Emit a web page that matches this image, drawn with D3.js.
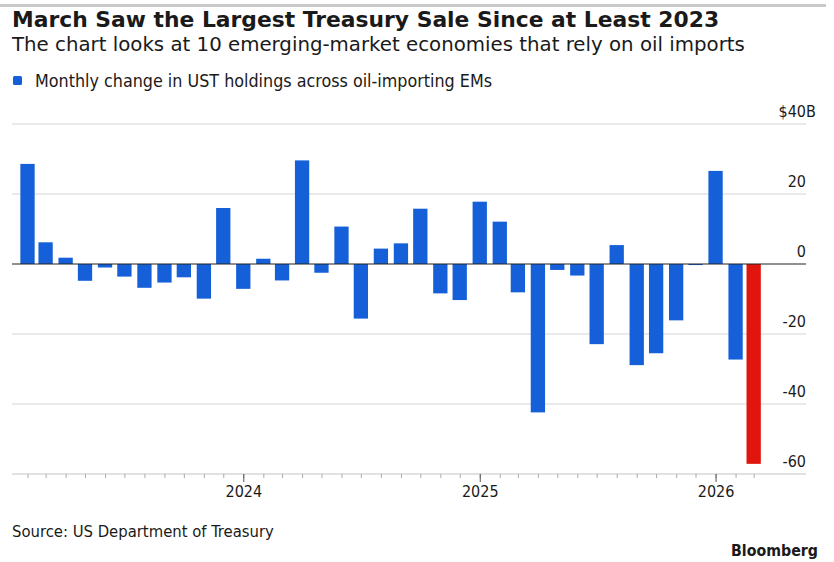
<!DOCTYPE html>
<html>
<head>
<meta charset="utf-8">
<script src="https://cdn.jsdelivr.net/npm/d3@7"></script>
<style>
  body { margin: 0; background: #ffffff; }
  svg text { font-family: "DejaVu Sans Condensed", "DejaVu Sans", sans-serif; fill: #1a1a1a; }
  svg text.wide { font-family: "DejaVu Sans", sans-serif; }
</style>
</head>
<body>
<svg id="chart" width="834" height="562"></svg>
<script>
// ---- Data ----
const months = [
  "2023-02","2023-03","2023-04","2023-05","2023-06","2023-07","2023-08","2023-09","2023-10","2023-11","2023-12",
  "2024-01","2024-02","2024-03","2024-04","2024-05","2024-06","2024-07","2024-08","2024-09","2024-10","2024-11","2024-12",
  "2025-01","2025-02","2025-03","2025-04","2025-05","2025-06","2025-07","2025-08","2025-09","2025-10","2025-11","2025-12",
  "2026-01","2026-02","2026-03"
];
const values = [
  28.6, 6.2, 1.8, -4.8, -1.0, -3.6, -6.8, -5.3, -3.8, -9.9, 16.0,
  -7.1, 1.5, -4.7, 29.6, -2.5, 10.7, -15.6, 4.4, 5.9, 15.8, -8.4, -10.3,
  17.8, 12.1, -8.1, -42.4, -1.7, -3.3, -22.9, 5.4, -28.9, -25.5, -16.1, -0.3,
  26.6, -27.3, -57.1
];
const highlightMonth = "2026-03";
const yTicks = [40, 20, 0, -20, -40, -60];
const yearLabels = ["2024", "2025", "2026"];

const title = "March Saw the Largest Treasury Sale Since at Least 2023";
const subtitle = "The chart looks at 10 emerging-market economies that rely on oil imports";
const legendLabel = "Monthly change in UST holdings across oil-importing EMs";
const sourceText = "Source: US Department of Treasury";
const brand = "Bloomberg";

// ---- Chart ----
const svg = d3.select("#chart");
const parse = d3.timeParse("%Y-%m");
const data = months.map((m, i) => ({ date: parse(m), value: values[i], hl: m === highlightMonth }));

const left = 12, right = 806;
const x = d3.scaleTime()
  .domain([new Date(2023, 0, 8), new Date(2026, 4, 21)])
  .range([left, right]);
const y = d3.scaleLinear().domain([-60, 40]).range([474, 124]);
const barW = 14.3;

// size a text so that it spans a given width
function fit(sel, target) {
  const w = sel.node().getComputedTextLength();
  const fs = +sel.attr("font-size");
  if (w > 0) sel.attr("font-size", (fs * target / w).toFixed(2));
  return sel;
}

// top rule
svg.append("rect").attr("x", 0).attr("y", 4).attr("width", 826).attr("height", 3).attr("fill", "#c9c9c9");

// titles
fit(svg.append("text").attr("class", "wide").attr("x", 12).attr("y", 27).attr("font-size", 21).attr("font-weight", "bold")
  .attr("fill", "#111").text(title), 707);
fit(svg.append("text").attr("class", "wide").attr("x", 12).attr("y", 51).attr("font-size", 19).attr("fill", "#222").text(subtitle), 733);

// legend
svg.append("rect").attr("x", 13).attr("y", 76).attr("width", 9).attr("height", 9).attr("rx", 1.5).attr("fill", "#1560d8");
fit(svg.append("text").attr("x", 35).attr("y", 87).attr("font-size", 16).text(legendLabel), 457);

// gridlines
svg.append("g").selectAll("line").data(yTicks.filter(d => d !== 0)).join("line")
  .attr("x1", left).attr("x2", right)
  .attr("y1", d => y(d)).attr("y2", d => y(d))
  .attr("stroke", d => d === -60 ? "#c4c4c4" : "#d6d6d6").attr("stroke-width", 1.2);

// y labels
const yl = svg.append("g");
yTicks.forEach(t => {
  const lab = t === 40 ? "$40" : String(t);
  yl.append("text").attr("x", right).attr("y", y(t) - 7).attr("text-anchor", "end")
    .attr("font-size", 16).text(lab);
  if (t === 40) {
    yl.append("text").attr("x", right).attr("y", y(t) - 7).attr("font-size", 16).text("B");
  }
});

// bars
svg.append("g").selectAll("rect").data(data).join("rect")
  .attr("x", d => x(d.date) - barW / 2)
  .attr("width", barW)
  .attr("y", d => y(Math.max(0, d.value)))
  .attr("height", d => Math.abs(y(d.value) - y(0)))
  .attr("fill", d => d.hl ? "#e0150d" : "#1560d8");

// zero line
svg.append("line").attr("x1", left).attr("x2", right).attr("y1", y(0)).attr("y2", y(0))
  .attr("stroke", "#222").attr("stroke-width", 1.2);

// x axis ticks (monthly minor, yearly major)
const axisG = svg.append("g").attr("transform", `translate(0,${y(-60)})`);
axisG.call(d3.axisBottom(x).tickValues(data.map(d => d.date)).tickSize(4).tickFormat(""));
axisG.select(".domain").remove();
axisG.selectAll(".tick line").attr("stroke", "#aaa");

const yearDates = yearLabels.map(yr => new Date(+yr, 0, 1));
const majorG = svg.append("g").attr("transform", `translate(0,${y(-60)})`);
majorG.call(d3.axisBottom(x).tickValues(yearDates).tickSize(8).tickFormat(d3.timeFormat("%Y")));
majorG.select(".domain").remove();
majorG.selectAll(".tick line").attr("stroke", "#555");
majorG.selectAll(".tick text").attr("font-size", 16).attr("dy", 0).attr("y", 23)
  .style("font-family", "\"DejaVu Sans Condensed\", \"DejaVu Sans\", sans-serif").attr("fill", "#222");

// footer
fit(svg.append("text").attr("x", 12).attr("y", 537).attr("font-size", 16).attr("fill", "#222").text(sourceText), 262);
fit(svg.append("text").attr("x", 731).attr("y", 556).attr("font-size", 16)
  .attr("font-weight", "bold").attr("fill", "#111").text(brand), 87);
</script>
</body>
</html>
